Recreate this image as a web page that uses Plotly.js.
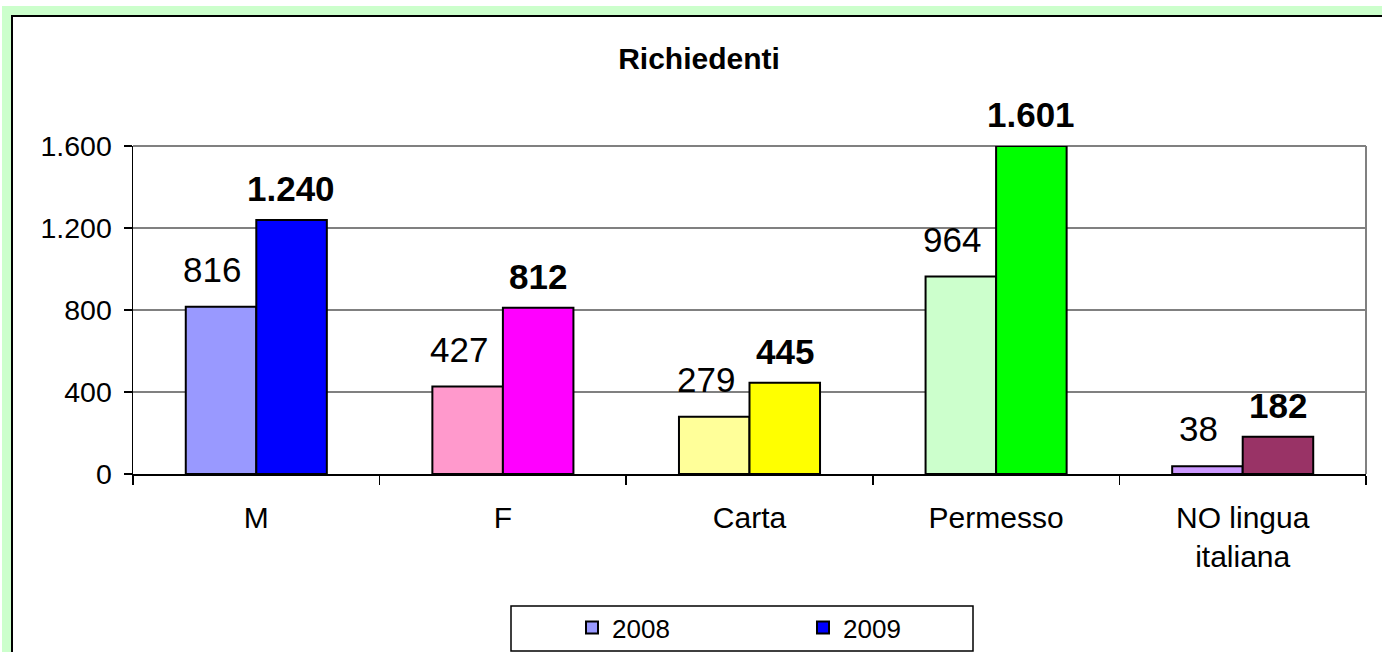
<!DOCTYPE html>
<html>
<head>
<meta charset="utf-8">
<script src="https://cdn.plot.ly/plotly-3.0.1.min.js"></script>
<style>
  html, body { margin: 0; padding: 0; background: #ffffff; }
  #wrap { position: relative; width: 1382px; height: 652px; overflow: hidden; }
  #green { position: absolute; left: 2px; top: 6px; right: 0; bottom: 0; background: #CCFFCC; }
  #frame { position: absolute; left: 11px; top: 15px; right: -10px; bottom: -10px; background: #ffffff;
           border-left: 2px solid #000; border-top: 2px solid #000; }
  #chart { position: absolute; left: 0; top: 0; width: 1382px; height: 652px; }
</style>
</head>
<body>
<div id="wrap">
  <div id="green"></div>
  <div id="frame"></div>
  <div id="chart"></div>
</div>
<script>
// ---- data ----
const categories = ['M', 'F', 'Carta', 'Permesso', 'NO lingua<br>italiana'];
const seriesNames = ['2008', '2009'];
const values2008 = [816, 427, 279, 964, 38];
const values2009 = [1240, 812, 445, 1601, 182];
const colors2008 = ['#9999FF', '#FF99CC', '#FFFF99', '#CCFFCC', '#CC99FF'];
const colors2009 = ['#0000FF', '#FF00FF', '#FFFF00', '#00FF00', '#993366'];
const yTickValues = [0, 400, 800, 1200, 1600];
const titleText = 'Richiedenti';

const FONT = 'Liberation Sans, Arial, sans-serif';
function fmt(v) { return String(v).replace(/\B(?=(\d{3})+(?!\d))/g, '.'); }

const traces = [
  {
    type: 'bar', name: seriesNames[0], x: categories, y: values2008,
    marker: { color: colors2008, line: { color: '#000000', width: 2 } },
    hoverinfo: 'none', cliponaxis: false
  },
  {
    type: 'bar', name: seriesNames[1], x: categories, y: values2009,
    marker: { color: colors2009, line: { color: '#000000', width: 2 } },
    hoverinfo: 'none', cliponaxis: false
  }
];

const annotations = [];
categories.forEach((c, i) => {
  annotations.push({
    x: c, y: values2008[i], xref: 'x', yref: 'y', text: fmt(values2008[i]),
    showarrow: false, xanchor: 'center', yanchor: 'bottom', xshift: -44, yshift: 16,
    font: { family: FONT, size: 35, color: '#000000' }
  });
  annotations.push({
    x: c, y: values2009[i], xref: 'x', yref: 'y', text: '<b>' + fmt(values2009[i]) + '</b>',
    showarrow: false, xanchor: 'center', yanchor: 'bottom', xshift: 35, yshift: 10,
    font: { family: FONT, size: 35, color: '#000000' }
  });
});

const L = 133, R = 1366, T = 146, B = 474;
const px = v => (v - L) / (R - L);
const py = v => (B - v) / (B - T);

const layout = {
  width: 1382, height: 652,
  margin: { l: L, r: 1382 - R, t: T, b: 652 - B, pad: 0, autoexpand: false },
  paper_bgcolor: 'rgba(0,0,0,0)',
  plot_bgcolor: '#ffffff',
  separators: ',.',
  showlegend: true,
  barmode: 'group',
  bargap: 0.428,
  bargroupgap: 0,
  title: {
    text: '<b>' + titleText + '</b>',
    font: { family: FONT, size: 30, color: '#000000' },
    xref: 'container', yref: 'container', x: 699 / 1382, y: 1 - 58 / 652,
    xanchor: 'center', yanchor: 'middle'
  },
  xaxis: {
    type: 'category',
    showline: true, linecolor: '#000000', linewidth: 1.5,
    ticks: 'outside', tickson: 'boundaries', ticklen: 9, tickcolor: '#000000', tickwidth: 1.5,
    tickfont: { family: FONT, size: 30, color: '#000000' },
    ticklabelstandoff: 16,
    showgrid: false, zeroline: false, fixedrange: true, automargin: false
  },
  yaxis: {
    range: [0, 1601],
    tickvals: yTickValues,
    tickformat: ',d',
    showline: true, linecolor: '#000000', linewidth: 1.5,
    ticks: 'outside', ticklen: 8, tickcolor: '#000000', tickwidth: 1.5,
    tickfont: { family: FONT, size: 28.5, color: '#000000' },
    ticklabelstandoff: 6,
    showgrid: true, gridcolor: '#808080', gridwidth: 1.5,
    zeroline: false, fixedrange: true, automargin: false
  },
  legend: {
    orientation: 'h', x: px(572), xanchor: 'left', y: py(604), yanchor: 'top',
    entrywidth: 186, entrywidthmode: 'pixels',
    font: { family: FONT, size: 26, color: '#000000' },
    bgcolor: 'rgba(0,0,0,0)', borderwidth: 0, traceorder: 'normal'
  },
  shapes: [
    { type: 'line', xref: 'paper', yref: 'paper', x0: 0, x1: 1, y0: 1, y1: 1,
      line: { color: '#808080', width: 2 }, layer: 'below' },
    { type: 'line', xref: 'paper', yref: 'paper', x0: 1, x1: 1, y0: 0, y1: 1,
      line: { color: '#808080', width: 2 }, layer: 'below' },
    { type: 'rect', xref: 'paper', yref: 'paper', x0: px(511), x1: px(973), y0: py(606), y1: py(651),
      line: { color: '#000000', width: 1.5 }, fillcolor: 'rgba(0,0,0,0)', layer: 'above' }
  ],
  annotations: annotations
};

Plotly.newPlot('chart', traces, layout, { displayModeBar: false, staticPlot: true });
</script>
</body>
</html>
